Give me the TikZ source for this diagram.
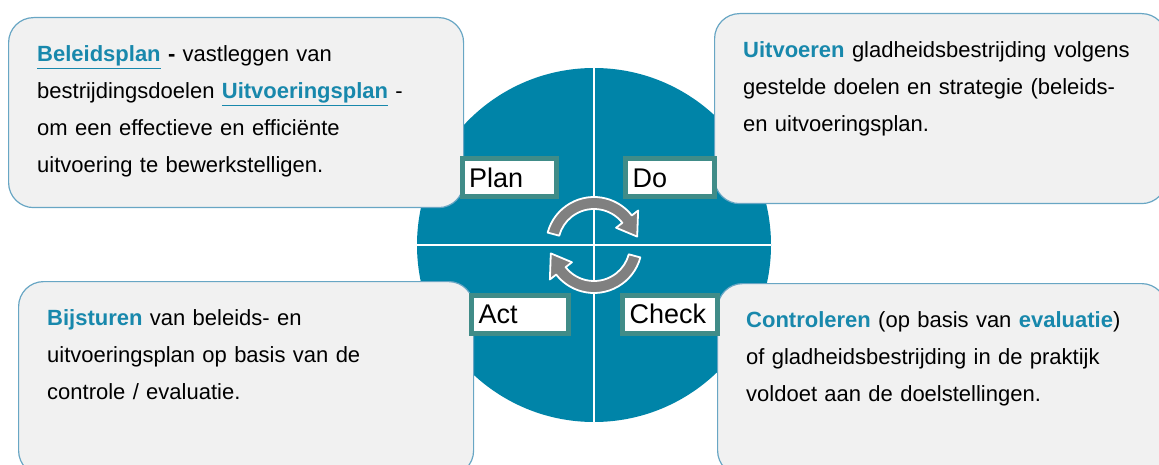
\documentclass[tikz,border=0pt]{standalone}
\usepackage{fontspec}
\setmainfont{Liberation Sans}
\usepackage{tikz}
\definecolor{wheelblue}{RGB}{0,132,168}
\definecolor{keyblue}{RGB}{24,136,172}
\definecolor{boxgray}{RGB}{241,241,241}
\definecolor{boxline}{RGB}{104,166,196}
\definecolor{tagline}{RGB}{64,140,136}
\definecolor{arrowgray}{RGB}{128,128,128}
\newcommand{\keyword}[1]{\textcolor{keyblue}{\textbf{#1}}}

\begin{document}
\begin{tikzpicture}[x=1pt,y=-1pt]
	\tikzstyle{InfoBox}=[draw=boxline,line width=1.2pt,fill=boxgray,rounded corners=25pt,inner sep=0pt,anchor=north west]
	\tikzstyle{InfoText}=[anchor=base west,inner sep=0pt,text width=420pt,align=left,font=\fontsize{22}{37}\selectfont]
	\tikzstyle{TagBox}=[draw=tagline,line width=5pt,fill=white,minimum height=38pt,inner xsep=7pt,inner ysep=0pt,align=left,font=\fontsize{27}{30}\selectfont]
	\tikzstyle{CycleArrow}=[fill=arrowgray,draw=white,line width=1.8pt,line join=round]
	\useasboundingbox (0,0) rectangle (1159,465);
	% wheel with the cross
	\node[circle,fill=wheelblue,minimum size=354pt,inner sep=0pt] (wheel) at (594,245) {};
	\draw[white,line width=2pt] (wheel.north) -- (wheel.south);
	\draw[white,line width=2pt] (wheel.west) -- (wheel.east);
	\begin{scope}[shift={(wheel.center)},yscale=-1]
		\filldraw[CycleArrow] (165:48) arc[start angle=165,end angle=38,radius=48] -- (38:56) -- (11:44) -- (38:28) -- (38:36) arc[start angle=38,end angle=165,radius=36] -- cycle;
		\filldraw[CycleArrow,rotate=180] (165:48) arc[start angle=165,end angle=38,radius=48] -- (38:56) -- (11:44) -- (38:28) -- (38:36) arc[start angle=38,end angle=165,radius=36] -- cycle;
	\end{scope}
	% the four boxes
	\node[InfoBox,minimum width=455pt,minimum height=190pt] (plan) at (8,17) {};
	\node[InfoBox,minimum width=452pt,minimum height=190pt] (do) at (714,13) {};
	\node[InfoBox,minimum width=455pt,minimum height=194pt] (act) at (18,281) {};
	\node[InfoBox,minimum width=449pt,minimum height=192pt] (check) at (717,283) {};
	\node[InfoText] (plantext) at ([shift={(29,45)}]plan.north west)
		{\keyword{\underline{Beleidsplan}} \textbf{-} vastleggen van\\
		 bestrijdingsdoelen \keyword{\underline{Uitvoeringsplan}} -\\
		 om een effectieve en efficiënte\\
		 uitvoering te bewerkstelligen.};
	\node[InfoText] (dotext) at ([shift={(29,45)}]do.north west)
		{\keyword{Uitvoeren} gladheidsbestrijding volgens\\
		 gestelde doelen en strategie (beleids-\\
		 en uitvoeringsplan.};
	\node[InfoText] (acttext) at ([shift={(29,44)}]act.north west)
		{\keyword{Bijsturen} van beleids- en\\
		 uitvoeringsplan op basis van de\\
		 controle / evaluatie.};
	\node[InfoText] (checktext) at ([shift={(29,44)}]check.north west)
		{\keyword{Controleren} (op basis van \keyword{evaluatie})\\
		 of gladheidsbestrijding in de praktijk\\
		 voldoet aan de doelstellingen.};
	% labels on the wheel
	\node[TagBox,text width=80pt] (plantag) at (509,178) {Plan};
	\node[TagBox,text width=75pt] (dotag) at (670,178) {Do};
	\node[TagBox,text width=83pt] (acttag) at (520,314) {Act};
	\node[TagBox,text width=81pt] (checktag) at (670,314) {Check};
\end{tikzpicture}
\end{document}
